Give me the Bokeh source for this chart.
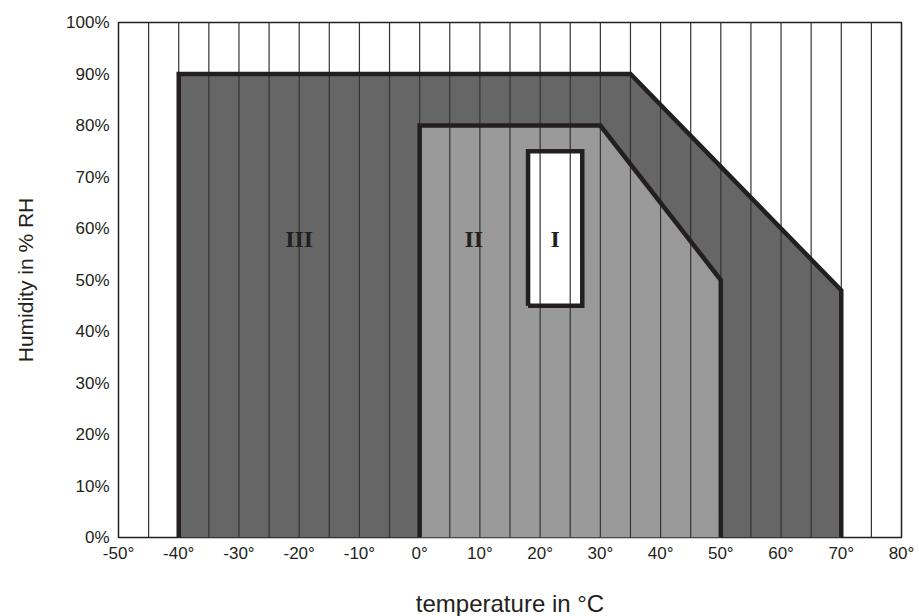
from bokeh.plotting import figure
from bokeh.models import FixedTicker, PrintfTickFormatter, Range1d
from bokeh.core.properties import value
from bokeh.embed import file_html
from bokeh.resources import INLINE

# Temperature tick labels and grid positions (degrees C)
x_ticks = list(range(-50, 81, 10))
grid_x = list(range(-45, 80, 5))
# Humidity tick labels (% RH)
y_ticks = list(range(0, 101, 10))

# Zone III (outer climate envelope)
zone3_t = [-40, -40, 35, 70, 70]
zone3_h = [0, 90, 90, 48, 0]
# Zone II
zone2_t = [0, 0, 30, 50, 50]
zone2_h = [0, 80, 80, 50, 0]
# Zone I (comfort box)
zone1_t = [18, 18, 27, 27, 18]
zone1_h = [45, 75, 75, 45, 45]

zone_labels = ["III", "II", "I"]
label_t = [-20, 9, 22.5]
label_h = [58, 58, 58]

INK = "#231f20"

p = figure(frame_width=783, frame_height=515, output_backend="svg", toolbar_location=None,
           x_range=Range1d(-50, 80), y_range=Range1d(0, 100),
           min_border_left=118, min_border_right=14, min_border_top=22, min_border_bottom=78)
p.background_fill_color = "white"
p.border_fill_color = "white"
p.outline_line_color = INK
p.outline_line_width = 1.5
p.xgrid.visible = False
p.ygrid.visible = False

# fills
p.patch(zone3_t, zone3_h, fill_color="#666666", line_color=None)
p.patch(zone2_t, zone2_h, fill_color="#999999", line_color=None)
p.patch(zone1_t, zone1_h, fill_color="white", line_color=None)

# vertical grid lines drawn over fills
p.segment(x0=grid_x, y0=[0] * len(grid_x), x1=grid_x, y1=[100] * len(grid_x),
          line_color="#333333", line_width=1.2)

# outlines
p.line(zone3_t, zone3_h, line_color=INK, line_width=4.5, line_join="miter")
p.line(zone2_t, zone2_h, line_color=INK, line_width=4.5, line_join="miter")
p.line(zone1_t, zone1_h, line_color=INK, line_width=4.5, line_join="miter")

p.text(x=label_t, y=label_h, text=zone_labels, text_font=value("Liberation Serif"),
       text_font_style="bold", text_font_size="24px", text_color=INK,
       text_align="center", text_baseline="middle")

for ax in (p.xaxis[0], p.yaxis[0]):
    ax.axis_line_color = None
    ax.major_tick_line_color = None
    ax.minor_tick_line_color = None
    ax.major_tick_in = 0
    ax.major_tick_out = 0
    ax.minor_tick_in = 0
    ax.minor_tick_out = 0
    ax.major_label_text_font = "Liberation Sans"
    ax.major_label_text_font_size = "17px"
    ax.major_label_text_color = INK
    ax.axis_label_text_font = "Liberation Sans"
    ax.axis_label_text_font_style = "normal"
    ax.axis_label_text_color = INK

p.xaxis.ticker = FixedTicker(ticks=x_ticks)
p.xaxis.formatter = PrintfTickFormatter(format="%d°")
p.xaxis.axis_label = "temperature in °C"
p.xaxis.axis_label_text_font_size = "24px"
p.xaxis.major_label_standoff = 6
p.xaxis.axis_label_standoff = 24

p.yaxis.ticker = FixedTicker(ticks=y_ticks)
p.yaxis.formatter = PrintfTickFormatter(format="%d%%")
p.yaxis.axis_label = "Humidity in % RH"
p.yaxis.axis_label_text_font_size = "21px"
p.yaxis.major_label_standoff = 9
p.yaxis.axis_label_standoff = 26

open("out.html", "w").write(file_html(p, INLINE))
